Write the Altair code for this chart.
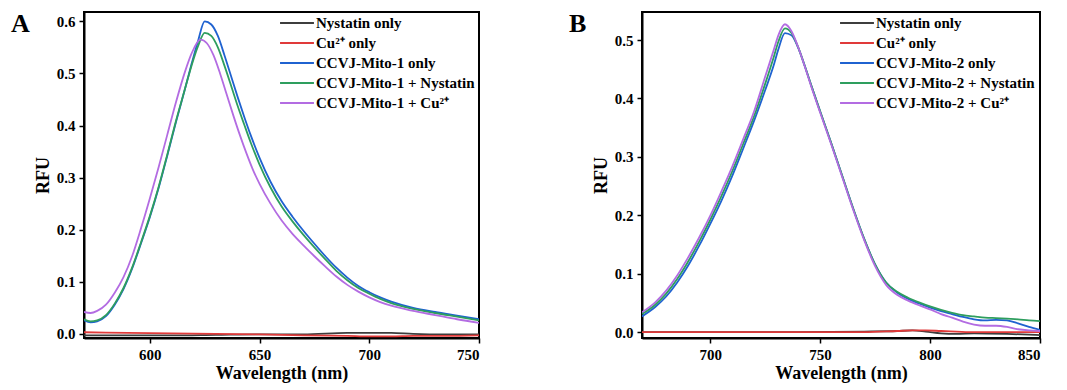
import altair as alt
import pandas as pd

FONT = "Liberation Serif"

# ---------------- Panel A data ----------------
A_names = ["Nystatin only", "Cu²⁺ only", "CCVJ-Mito-1 only",
           "CCVJ-Mito-1 + Nystatin", "CCVJ-Mito-1 + Cu²⁺"]
A_colors = ["#3d3d3d", "#e03a3a", "#1f62d0", "#2e9e5e", "#b36ce2"]

A_flat_wl = [570, 590, 610, 630, 650, 670, 690, 700, 710, 720, 735, 750]
A_nystatin = [-0.003, -0.003, -0.003, -0.002, -0.001, -0.001, 0.002, 0.002, 0.002, 0.000, -0.001, -0.001]
A_cu = [0.003, 0.002, 0.001, 0.000, -0.001, -0.003, -0.004, -0.005, -0.005, -0.004, -0.004, -0.003]

A_wl = [570, 573, 576, 580, 584, 588, 592, 596, 600, 604, 608, 612, 616, 619, 622, 625,
        628, 631, 634, 637, 640, 643, 646, 650, 655, 660, 665, 670, 675, 680, 685, 690,
        695, 700, 705, 710, 720, 730, 740, 750]
A_probe = [0.026, 0.022, 0.024, 0.034, 0.056, 0.086, 0.126, 0.174, 0.224, 0.280, 0.343, 0.408,
           0.470, 0.518, 0.563, 0.600, 0.594, 0.572, 0.535, 0.495, 0.455, 0.417, 0.381, 0.338,
           0.292, 0.255, 0.225, 0.198, 0.173, 0.149, 0.127, 0.108, 0.092, 0.080, 0.070, 0.062,
           0.050, 0.042, 0.035, 0.028]
A_probe_nys = [0.028, 0.024, 0.026, 0.036, 0.058, 0.088, 0.128, 0.176, 0.226, 0.282, 0.345, 0.410,
               0.470, 0.515, 0.553, 0.578, 0.572, 0.550, 0.515, 0.477, 0.438, 0.402, 0.367, 0.325,
               0.281, 0.245, 0.216, 0.190, 0.166, 0.143, 0.121, 0.103, 0.088, 0.077, 0.067, 0.059,
               0.048, 0.040, 0.033, 0.026]
A_wl_cu = [570, 573, 576, 580, 584, 588, 592, 596, 600, 604, 608, 612, 616, 619, 623, 626,
           629, 632, 635, 638, 641, 644, 647, 650, 655, 660, 665, 670, 675, 680, 685, 690,
           695, 700, 705, 710, 720, 730, 740, 750]
A_probe_cu = [0.042, 0.040, 0.044, 0.056, 0.079, 0.109, 0.150, 0.203, 0.260, 0.320, 0.383, 0.446,
              0.503, 0.538, 0.565, 0.558, 0.535, 0.500, 0.460, 0.420, 0.382, 0.347, 0.315, 0.288,
              0.250, 0.218, 0.192, 0.170, 0.149, 0.129, 0.110, 0.094, 0.081, 0.070, 0.061, 0.054,
              0.044, 0.036, 0.028, 0.021]

# ---------------- Panel B data ----------------
B_names = ["Nystatin only", "Cu²⁺ only", "CCVJ-Mito-2 only",
           "CCVJ-Mito-2 + Nystatin", "CCVJ-Mito-2 + Cu²⁺"]
B_colors = A_colors

B_flat_wl = [669, 700, 740, 770, 785, 792, 798, 805, 812, 820, 835, 850]
B_nystatin = [0.000, 0.000, 0.000, 0.001, 0.002, 0.003, 0.001, -0.002, -0.003, -0.002, -0.003, -0.005]
B_cu = [0.000, 0.000, 0.000, 0.000, 0.002, 0.003, 0.003, 0.002, 0.001, 0.000, 0.000, 0.000]

B_wl = [669, 675, 680, 685, 690, 695, 700, 705, 710, 715, 720, 725, 729, 731, 734, 737,
        740, 743, 746, 750, 755, 760, 765, 770, 775, 780, 785, 790, 795, 800, 805, 810,
        815, 820, 825, 830, 835, 840, 845, 850]
B_probe = [0.027, 0.043, 0.061, 0.085, 0.114, 0.148, 0.185, 0.224, 0.267, 0.314, 0.362, 0.414,
           0.458, 0.484, 0.512, 0.508, 0.487, 0.456, 0.422, 0.378, 0.324, 0.268, 0.212, 0.160,
           0.116, 0.085, 0.068, 0.057, 0.049, 0.042, 0.036, 0.031, 0.026, 0.022, 0.020, 0.021,
           0.020, 0.015, 0.009, 0.004]
B_probe_nys = [0.031, 0.047, 0.066, 0.091, 0.121, 0.155, 0.192, 0.232, 0.275, 0.322, 0.370, 0.425,
               0.472, 0.497, 0.520, 0.512, 0.488, 0.456, 0.422, 0.378, 0.324, 0.268, 0.212, 0.160,
               0.116, 0.085, 0.069, 0.059, 0.051, 0.044, 0.038, 0.033, 0.029, 0.027, 0.025, 0.024,
               0.023, 0.022, 0.020, 0.019]
B_probe_cu = [0.034, 0.051, 0.071, 0.097, 0.128, 0.162, 0.199, 0.240, 0.283, 0.330, 0.378, 0.437,
              0.484, 0.508, 0.527, 0.515, 0.488, 0.455, 0.420, 0.376, 0.322, 0.266, 0.210, 0.158,
              0.113, 0.081, 0.064, 0.054, 0.046, 0.039, 0.031, 0.025, 0.018, 0.013, 0.011, 0.011,
              0.009, 0.005, 0.003, 0.002]


def build_df(names, series):
    rows = []
    for name, (wl, vals) in zip(names, series):
        for w, v in zip(wl, vals):
            rows.append({"wl": w, "rfu": v, "series": name})
    return pd.DataFrame(rows)


def panel(letter, names, colors, series, xdom, ydom, xticks, yticks, width, height, lx):
    df = build_df(names, series)
    lines = alt.Chart(df).mark_line(strokeWidth=1.8, interpolate="monotone", clip=True).encode(
        x=alt.X("wl:Q", scale=alt.Scale(domain=xdom, nice=False, zero=False),
                axis=alt.Axis(values=xticks, format="d", title="Wavelength (nm)",
                              labelFont=FONT, titleFont=FONT,
                              titleFontSize=18, titlePadding=2, labelPadding=4)),
        y=alt.Y("rfu:Q", scale=alt.Scale(domain=ydom, nice=False, zero=False),
                axis=alt.Axis(values=yticks, format=".1f", title="RFU",
                              labelFont=FONT, titleFont=FONT,
                              titleFontSize=18, titlePadding=4, labelPadding=4)),
        color=alt.Color("series:N", sort=names,
                        scale=alt.Scale(domain=names, range=colors),
                        legend=alt.Legend(title=None, orient="none", legendX=lx, legendY=3,
                                          padding=0, symbolType="M-2.5,0L2.5,0", symbolSize=184,
                                          symbolStrokeWidth=2, labelFont=FONT, labelFontSize=15,
                                          labelFontWeight="bold", labelColor="black",
                                          labelOffset=11, rowPadding=4, labelLimit=400)),
    )
    lab = alt.Chart(pd.DataFrame({"t": [letter]})).mark_text(
        font=FONT, fontSize=26, fontWeight="bold", align="left", baseline="alphabetic",
        color="black").encode(x=alt.value(-73), y=alt.value(20), text="t:N")
    return alt.layer(lines, lab).properties(width=width, height=height)


A = panel("A", A_names, A_colors,
          [(A_flat_wl, A_nystatin), (A_flat_wl, A_cu), (A_wl, A_probe),
           (A_wl, A_probe_nys), (A_wl_cu, A_probe_cu)],
          [570, 750], [-0.008, 0.618], [600, 650, 700, 750],
          [0.0, 0.1, 0.2, 0.3, 0.4, 0.5, 0.6], 395, 326, 205)

B = panel("B", B_names, B_colors,
          [(B_flat_wl, B_nystatin), (B_flat_wl, B_cu), (B_wl, B_probe),
           (B_wl, B_probe_nys), (B_wl, B_probe_cu)],
          [669, 850], [-0.010, 0.548], [700, 750, 800, 850],
          [0.0, 0.1, 0.2, 0.3, 0.4, 0.5], 398, 326, 207)

chart = alt.hconcat(A, B, spacing=87).resolve_scale(color="independent").properties(
    padding={"left": 10, "top": 10, "right": 5, "bottom": 2},
    background="white",
).configure_view(stroke="black", strokeWidth=2).configure_axis(
    labelFont=FONT, labelFontSize=15, labelFontWeight="bold", labelColor="black",
    titleFont=FONT, titleFontWeight="bold", titleColor="black",
    domainColor="black", domainWidth=2, tickColor="black", tickWidth=1.5, tickSize=5,
    grid=False,
)

chart.save("out.html", embed_options={"renderer": "svg", "actions": False})
